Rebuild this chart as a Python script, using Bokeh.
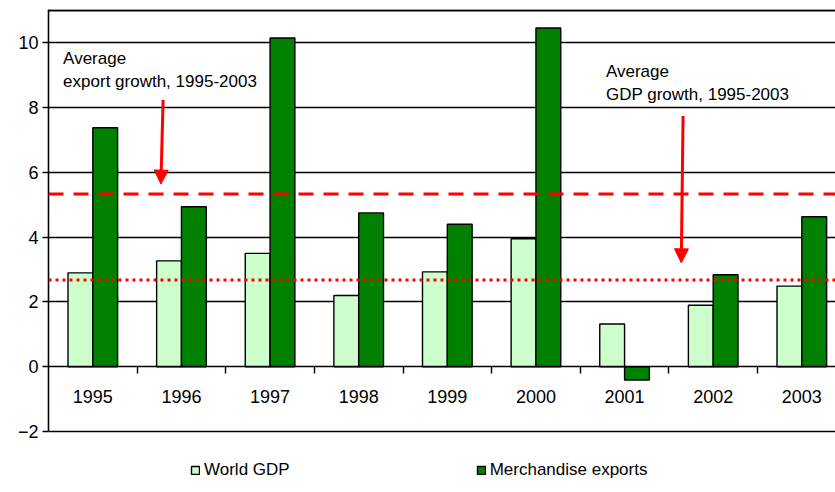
from bokeh.plotting import figure
from bokeh.models import (Range1d, FixedTicker, Span, Legend, LegendItem, Arrow,
                          NormalHead, Label)
from bokeh.embed import file_html
from bokeh.resources import INLINE

years = ["1995", "1996", "1997", "1998", "1999", "2000", "2001", "2002", "2003"]
world_gdp = [2.90, 3.27, 3.50, 2.20, 2.93, 3.95, 1.32, 1.90, 2.49]
exports = [7.38, 4.94, 10.15, 4.75, 4.40, 10.46, -0.41, 2.84, 4.63]
avg_export = 5.33
avg_gdp = 2.68
y_ticks = [-2, 0, 2, 4, 6, 8, 10]

FONT = "Liberation Sans"
LIGHT = "#CCFFCC"
DARK = "#008000"
RED = "#FF0000"

centers = [i + 0.5 for i in range(len(years))]
x_gdp = [c - 0.14 for c in centers]
x_exp = [c + 0.14 for c in centers]

p = figure(width=835, height=484, output_backend="svg", toolbar_location=None,
           x_range=Range1d(0, 8.88), y_range=Range1d(-3.635, 11.03),
           min_border_left=48, min_border_top=9, min_border_right=0,
           min_border_bottom=0)
p.outline_line_color = None
p.background_fill_color = "white"

# grid lines
p.xgrid.visible = False
p.ygrid.ticker = FixedTicker(ticks=[2, 4, 6, 8, 10])
p.ygrid.grid_line_color = "#000000"
p.ygrid.grid_line_width = 1.4

p.add_layout(Span(location=11, dimension="width", line_color="#000000", line_width=2.2))
p.add_layout(Span(location=-2, dimension="width", line_color="#000000", line_width=1.6))

# bars
r1 = p.vbar(x=x_gdp, top=world_gdp, bottom=0, width=0.28, fill_color=LIGHT,
            line_color="#000000", line_width=1.4)
r2 = p.vbar(x=x_exp, top=exports, bottom=0, width=0.28, fill_color=DARK,
            line_color="#000000", line_width=1.4)

# average lines
p.add_layout(Span(location=avg_export, dimension="width", line_color=RED,
                  line_width=3, line_dash="15 10"))
p.add_layout(Span(location=avg_gdp, dimension="width", line_color=RED,
                  line_width=3, line_dash="3 4"))

# arrows
p.add_layout(Arrow(x_start=1.293, y_start=8.24, x_end=1.268, y_end=avg_export + 0.31,
                   line_color=RED, line_width=3,
                   end=NormalHead(size=14, fill_color=RED, line_color=RED)))
p.add_layout(Arrow(x_start=7.16, y_start=7.74, x_end=7.14, y_end=avg_gdp + 0.53,
                   line_color=RED, line_width=3,
                   end=NormalHead(size=14, fill_color=RED, line_color=RED)))

# annotation text
for x, y, t in [(0.165, 9.53, "Average"), (0.165, 8.82, "export growth, 1995-2003"),
                (6.29, 9.13, "Average"), (6.29, 8.42, "GDP growth, 1995-2003")]:
    p.add_layout(Label(x=x, y=y, text=t, text_font=FONT, text_font_size="17px",
                       text_color="#000000", text_baseline="alphabetic"))

# y axis
p.yaxis.ticker = FixedTicker(ticks=y_ticks)
p.yaxis.bounds = (-2, 11.03)
p.yaxis.major_tick_out = 6
p.yaxis.major_tick_in = 0
p.yaxis.minor_tick_line_color = None
p.yaxis.axis_line_width = 1.6
p.yaxis.major_tick_line_width = 1.4
p.yaxis.major_label_text_font = FONT
p.yaxis.major_label_text_font_size = "18px"
p.yaxis.major_label_text_color = "#000000"
p.yaxis.major_label_standoff = 4

# x axis at zero
p.xaxis.fixed_location = 0
p.xaxis.ticker = FixedTicker(ticks=centers, minor_ticks=[1, 2, 3, 4, 5, 6, 7, 8])
p.xaxis.major_label_overrides = {c: y for c, y in zip(centers, years)}
p.xaxis.major_tick_line_color = None
p.xaxis.major_tick_out = 0
p.xaxis.major_tick_in = 0
p.xaxis.minor_tick_out = 7
p.xaxis.minor_tick_in = 0
p.xaxis.minor_tick_line_width = 1.4
p.xaxis.axis_line_width = 1.6
p.xaxis.major_label_standoff = 16
p.xaxis.major_label_text_font = FONT
p.xaxis.major_label_text_font_size = "18px"
p.xaxis.major_label_text_color = "#000000"

legend = Legend(items=[LegendItem(label="World GDP", renderers=[r1]),
                       LegendItem(label="Merchandise exports", renderers=[r2])],
                orientation="horizontal", location=(142, 4), spacing=186,
                glyph_width=10, glyph_height=10, label_standoff=4,
                label_text_font=FONT, label_text_font_size="17px",
                label_text_color="#000000",
                padding=0, margin=0, border_line_color=None,
                background_fill_alpha=0)
p.add_layout(legend)

open("out.html", "w").write(file_html(p, INLINE))
